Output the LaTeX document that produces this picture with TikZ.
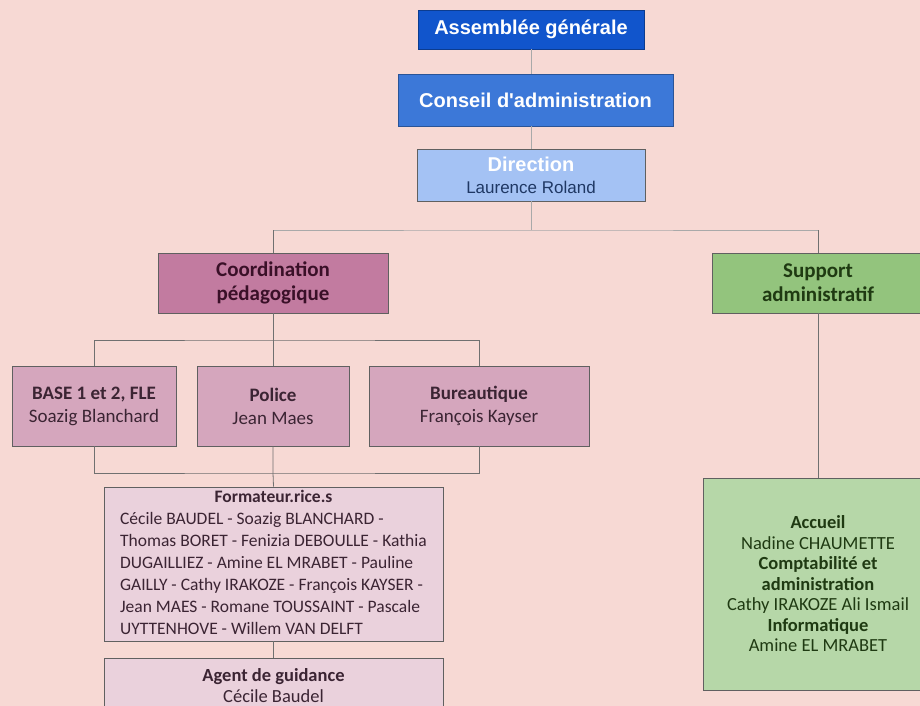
\documentclass[tikz,border=0pt]{standalone}
\usepackage{fontspec}
\setmainfont{Carlito}
\newfontfamily\arialfont{Liberation Sans}
\definecolor{bg}{HTML}{F7D9D4}
\definecolor{agblue}{HTML}{1155CC}
\definecolor{cablue}{HTML}{3C78D8}
\definecolor{dirblue}{HTML}{A4C2F4}
\definecolor{dirtext}{HTML}{1F3864}
\definecolor{magdark}{HTML}{C27BA0}
\definecolor{magmid}{HTML}{D5A6BD}
\definecolor{maglight}{HTML}{EAD1DC}
\definecolor{grdark}{HTML}{93C47D}
\definecolor{grlight}{HTML}{B6D7A8}
\definecolor{boxline}{HTML}{606060}
\definecolor{conline}{HTML}{707070}
\definecolor{magtext}{HTML}{3A1028}
\definecolor{subtext}{HTML}{3B2433}
\definecolor{grtext}{HTML}{1F3A12}
\begin{document}
\begin{tikzpicture}[x=1pt,y=-1pt,
  box/.style={draw=boxline, line width=0.9pt, inner sep=0pt, align=center, rectangle},
  conn/.style={draw=conline, line width=0.8pt},
  faint/.style={draw=conline!60, line width=0.8pt}]
\useasboundingbox (0,0) rectangle (920,706);
\clip (0,0) rectangle (920,706);
\fill[bg] (0,0) rectangle (920,706);

% top chain
\node[box, fill=agblue, draw=agblue!70!black, minimum width=226pt, minimum height=39pt,
  text=white, font=\arialfont\bfseries\fontsize{20}{23}\selectfont] (ag) at (531,29.5) {Assemblée générale};
\node[box, fill=cablue, draw=cablue!70!black, minimum width=275pt, minimum height=52pt,
  text=white, font=\arialfont\bfseries\fontsize{20}{23}\selectfont] (ca) at (535.5,100) {Conseil d'administration};
\node[box, fill=dirblue, draw=boxline, minimum width=228pt, minimum height=52pt,
  font=\arialfont\fontsize{17}{22}\selectfont] (dir) at (531,175)
  {{\color{white}\bfseries\fontsize{20}{22}\selectfont Direction}\\{\color{dirtext}Laurence Roland}};

% second level
\node[box, fill=magdark, minimum width=230pt, minimum height=60pt, text=magtext,
  font=\bfseries\fontsize{21}{24}\selectfont] (coord) at (273,283) {Coordination\\pédagogique};
\node[box, fill=grdark, minimum width=212pt, minimum height=60pt, text=grtext,
  font=\bfseries\fontsize{21}{24}\selectfont] (supp) at (818,283) {Support\\administratif};

% third level
\node[box, fill=magmid, minimum width=164pt, minimum height=80pt, text=subtext,
  font=\fontsize{19}{23}\selectfont] (base) at (94,406) {\textbf{BASE 1 et 2, FLE}\\Soazig Blanchard};
\node[box, fill=magmid, minimum width=152pt, minimum height=80pt, text=subtext,
  font=\fontsize{19}{23}\selectfont] (pol) at (273,406) {\textbf{Police}\\Jean Maes};
\node[box, fill=magmid, minimum width=220pt, minimum height=80pt, text=subtext,
  font=\fontsize{19}{23}\selectfont] (bur) at (479,406) {\textbf{Bureautique}\\François Kayser};

% formateurs
\node[box, fill=maglight, minimum width=339pt, minimum height=154pt, text=subtext,
  font=\fontsize{17.5}{22}\selectfont] (form) at (273.5,564)
  {\begin{tabular}{@{}l@{}}
  \multicolumn{1}{@{}c@{}}{\textbf{Formateur.rice.s}}\\
  Cécile BAUDEL - Soazig BLANCHARD -\\
  Thomas BORET - Fenizia DEBOULLE - Kathia\\
  DUGAILLIEZ - Amine EL MRABET - Pauline\\
  GAILLY - Cathy IRAKOZE - François KAYSER -\\
  Jean MAES - Romane TOUSSAINT - Pascale\\
  UYTTENHOVE - Willem VAN DELFT
  \end{tabular}};
\node[box, fill=maglight, minimum width=339pt, minimum height=64pt, anchor=north] (agent) at (273.5,658) {};
\node[text=subtext, align=center, inner sep=0pt, font=\fontsize{18.5}{21}\selectfont] (agentlbl) at (273.5,686)
  {\textbf{Agent de guidance}\\Cécile Baudel};

% right box
\node[box, fill=grlight, minimum width=230pt, minimum height=212pt, text=grtext,
  font=\fontsize{18.5}{20.5}\selectfont] (right) at (818,584)
  {\textbf{Accueil}\\Nadine CHAUMETTE\\\textbf{Comptabilité et}\\\textbf{administration}\\Cathy IRAKOZE Ali Ismail\\\textbf{Informatique}\\Amine EL MRABET};

% connectors
\coordinate (bus1) at (531,230);
\coordinate (bus2) at (273,340);
\coordinate (bus3) at (273,473);
\draw[faint] (ag.south) -- (ag.south |- ca.north);
\draw[faint] (ca.south -| dir.north) -- (dir.north);
\draw[faint] (dir.south) -- (bus1);
\draw[faint] (coord.north) |- (bus1) -| (supp.north);
\draw[conn] (coord.north) -- ++(0,-23);
\draw[conn] (supp.north) -- ++(0,-23);
\draw[conn] (coord.south) -- (bus2);
\draw[conn] (base.north) |- (bus2) -| (bur.north);
\draw[conn] (pol.north) -- (bus2);
\draw[conn] (base.south) |- (bus3) -| (bur.south);
\draw[conn] (pol.south) -- (bus3) -- (form.north);
\draw[conn] (form.south) -- (agent.north);
\draw[conn] (supp.south) -- (right.north);
\end{tikzpicture}
\end{document}
